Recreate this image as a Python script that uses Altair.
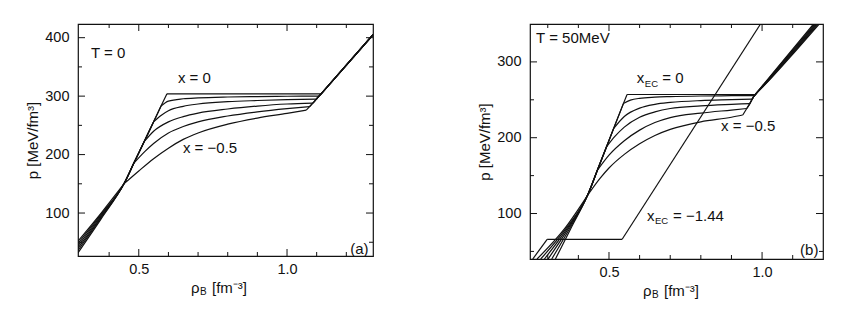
import altair as alt
import pandas as pd

FONT = "Liberation Sans"
INK = "#111111"

# ======================= panel (a): T = 0 =======================
A_XDOM = [0.295, 1.29]
A_YDOM = [26.5, 423.4]
A_W, A_H = 295, 232

# curves x = 0, -0.1, -0.2, -0.3, -0.4, -0.5 (index k = 0..5)
# low-density hadronic bunch
A_HAD_X = [0.295, 0.373, 0.45]
A_HAD_P_START = [32, 36, 40, 44, 48, 52]
A_HAD_P_MID = [90, 92, 94, 96, 98, 100]
A_HAD_P_JOIN = 150
# common hadronic line up to the onset of the mixed phase
A_ONSET_X = [0.45, 0.483, 0.518, 0.55, 0.575, 0.595]
A_ONSET_P = [150, 185, 222, 256, 283, 304]
# mixed phase
A_MIX0_X = [0.595, 0.85, 1.115]
A_MIX0_P = [304, 304, 304]
A_MIX1_X = [0.575, 0.6, 0.65, 0.7, 0.8, 0.9, 1.0, 1.108]
A_MIX1_P = [283, 291.5, 295.5, 297, 298.5, 299.3, 299.8, 300]
A_MIX2_X = [0.55, 0.575, 0.6, 0.65, 0.7, 0.8, 0.9, 1.0, 1.099]
A_MIX2_P = [256, 267, 275, 282.5, 286.5, 290.5, 292.5, 294, 295]
A_MIX3_X = [0.518, 0.55, 0.6, 0.65, 0.7, 0.8, 0.9, 1.0, 1.087]
A_MIX3_P = [222, 240, 256, 265, 271, 278, 283, 286.5, 288]
A_MIX4_X = [0.483, 0.52, 0.55, 0.6, 0.65, 0.7, 0.8, 0.9, 1.0, 1.076]
A_MIX4_P = [185, 205, 219, 237, 248, 256, 266, 273, 278.5, 282]
A_MIX5_X = [0.45, 0.5, 0.55, 0.6, 0.65, 0.7, 0.8, 0.9, 1.0, 1.065]
A_MIX5_P = [150, 172, 193, 211, 226, 237, 252, 262.5, 270.5, 276]
# pure quark phase
A_QGP_X = [1.065, 1.076, 1.087, 1.099, 1.108, 1.115, 1.29]
A_QGP_P = [276, 282, 288, 295, 300, 304, 405]

A_XT_MAJOR = [0.5, 1.0]
A_XT_MINOR = [0.4, 0.6, 0.7, 0.8, 0.9, 1.1, 1.2]
A_YT_MAJOR = [100, 200, 300, 400]
A_YT_MINOR = [50, 150, 250, 350]

A_LABEL_T = ["T = 0", "x = 0", "x = \u22120.5", "(a)"]
A_LABEL_X = [0.339, 0.632, 0.649, 1.213]
A_LABEL_P = [373.8, 331, 211.2, 38.5]

# ======================= panel (b): T = 50 MeV =======================
B_XDOM = [0.242, 1.199]
B_YDOM = [40, 350]
B_W, B_H = 293, 235

B_HAD_P = [40, 80, 124]
B_HAD_X_START = [0.325, 0.313, 0.301, 0.289, 0.277, 0.265]
B_HAD_X_MID = [0.375, 0.371, 0.367, 0.363, 0.359, 0.355]
B_HAD_X_JOIN = 0.43
B_ONSET_X = [0.43, 0.462, 0.492, 0.515, 0.547, 0.559]
B_ONSET_P = [124, 157, 188, 212, 245, 257]
B_MIX0_X = [0.559, 0.75, 0.978]
B_MIX0_P = [257, 257, 257]
B_MIX1_X = [0.547, 0.57, 0.6, 0.65, 0.7, 0.8, 0.9, 0.975]
B_MIX1_P = [245, 249.5, 252, 253.5, 254.2, 255, 255.4, 255.5]
B_MIX2_X = [0.515, 0.55, 0.6, 0.65, 0.7, 0.8, 0.9, 0.968]
B_MIX2_P = [212, 228, 239, 244, 246.5, 249, 250.2, 251]
B_MIX3_X = [0.492, 0.52, 0.55, 0.6, 0.65, 0.7, 0.8, 0.9, 0.96]
B_MIX3_P = [188, 202, 214, 227, 234, 238.5, 242, 244, 245]
B_MIX4_X = [0.462, 0.5, 0.55, 0.6, 0.65, 0.7, 0.8, 0.9, 0.95]
B_MIX4_P = [157, 177, 196, 210, 220, 226.5, 232.5, 236.5, 238.5]
B_MIX5_X = [0.43, 0.47, 0.5, 0.55, 0.6, 0.65, 0.7, 0.8, 0.9, 0.937]
B_MIX5_P = [124, 146, 160, 178, 192, 203, 211, 221, 227, 230]
B_QGP_X = [0.937, 0.95, 0.96, 0.968, 0.975, 0.978]
B_QGP_P = [230, 238.5, 245, 251, 255.5, 257]
B_TOP_P = [268, 316, 350]
B_TOP0_X = [1.0, 1.098, 1.168]
B_TOP1_X = [1.001, 1.101, 1.172]
B_TOP2_X = [1.002, 1.104, 1.176]
B_TOP3_X = [1.003, 1.107, 1.179]
B_TOP4_X = [1.004, 1.110, 1.183]
B_TOP5_X = [1.005, 1.113, 1.187]
# x_EC = -1.44
B_EC_X = [0.251, 0.298, 0.543, 0.995]
B_EC_P = [40, 66, 66, 350]

B_XT_MAJOR = [0.5, 1.0]
B_XT_MINOR = [0.3, 0.4, 0.6, 0.7, 0.8, 0.9, 1.1]
B_YT_MAJOR = [100, 200, 300]
B_YT_MINOR = [50, 150, 250]

B_LABEL_T = ["T = 50MeV", "x", "= 0", "x = \u22120.5", "x", "= \u22121.44", "(b)"]
B_LABEL_X = [0.262, 0.591, 0.674, 0.866, 0.624, 0.709, 1.124]
B_LABEL_P = [331.5, 278.8, 278.8, 215.4, 96.7, 96.7, 51.8]
B_SUB_T = ["EC", "EC"]
B_SUB_X = [0.617, 0.650]
B_SUB_P = [271.5, 89.5]


def seg(rows, key, xs, ps):
    for i, (x, p) in enumerate(zip(xs, ps)):
        rows.append({"key": key, "i": i, "x": x, "p": p})


# ---------- build line tables ----------
A_MIX = [(A_MIX0_X, A_MIX0_P), (A_MIX1_X, A_MIX1_P), (A_MIX2_X, A_MIX2_P),
         (A_MIX3_X, A_MIX3_P), (A_MIX4_X, A_MIX4_P), (A_MIX5_X, A_MIX5_P)]
rows_a = []
for k in range(6):
    j = 5 - k
    seg(rows_a, f"had{k}", A_HAD_X + A_ONSET_X[1:j + 1],
        [A_HAD_P_START[k], A_HAD_P_MID[k], A_HAD_P_JOIN] + A_ONSET_P[1:j + 1])
    seg(rows_a, f"mix{k}", A_MIX[k][0], A_MIX[k][1])
    seg(rows_a, f"qgp{k}", A_QGP_X[j:], A_QGP_P[j:])
df_a = pd.DataFrame(rows_a)

B_MIX = [(B_MIX0_X, B_MIX0_P), (B_MIX1_X, B_MIX1_P), (B_MIX2_X, B_MIX2_P),
         (B_MIX3_X, B_MIX3_P), (B_MIX4_X, B_MIX4_P), (B_MIX5_X, B_MIX5_P)]
B_TOP = [B_TOP0_X, B_TOP1_X, B_TOP2_X, B_TOP3_X, B_TOP4_X, B_TOP5_X]
rows_b = []
for k in range(6):
    j = 5 - k
    seg(rows_b, f"had{k}",
        [B_HAD_X_START[k], B_HAD_X_MID[k], B_HAD_X_JOIN] + B_ONSET_X[1:j + 1],
        B_HAD_P + B_ONSET_P[1:j + 1])
    seg(rows_b, f"mix{k}", B_MIX[k][0], B_MIX[k][1])
    seg(rows_b, f"qgp{k}", B_QGP_X[j:] + B_TOP[k], B_QGP_P[j:] + B_TOP_P)
for s in range(3):
    seg(rows_b, f"ec{s}", B_EC_X[s:s + 2], B_EC_P[s:s + 2])
df_b = pd.DataFrame(rows_b)


def panel(df, xdom, ydom, w, h, xt_major, xt_minor, yt_major, yt_minor,
          lab_t, lab_x, lab_p, sub_t=None, sub_x=None, sub_p=None):
    X = alt.X("x:Q", scale=alt.Scale(domain=xdom, nice=False, zero=False),
              axis=alt.Axis(values=xt_major, format=".1f", title=None, ticks=False,
                            tickSize=0, domain=False, grid=False, labelPadding=6,
                            labelFontSize=14.5, labelFont=FONT, labelColor=INK))
    Y = alt.Y("p:Q", scale=alt.Scale(domain=ydom, nice=False, zero=False),
              axis=alt.Axis(values=yt_major, format="d", title="p  [MeV/fm\u00b3]",
                            ticks=False, tickSize=0, domain=False, grid=False,
                            labelPadding=9, labelFontSize=14.5, labelFont=FONT,
                            labelColor=INK, minExtent=33, maxExtent=33,
                            titlePadding=5, titleFont=FONT, titleFontSize=15,
                            titleFontWeight="normal", titleColor=INK))
    layers = []
    layers.append(alt.Chart(df).mark_line(interpolate="monotone", color=INK,
                                          strokeWidth=1.2, clip=True)
                  .encode(x=X, y=Y, detail="key:N", order="i:Q"))
    # inward ticks on all four sides
    for vals, L in ((xt_major, 7), (xt_minor, 4)):
        d = pd.DataFrame({"x": vals})
        layers.append(alt.Chart(d).mark_rule(color=INK, strokeWidth=1)
                      .encode(x=X, y=alt.value(h), y2=alt.value(h - L)))
        layers.append(alt.Chart(d).mark_rule(color=INK, strokeWidth=1)
                      .encode(x=X, y=alt.value(0), y2=alt.value(L)))
    for vals, L in ((yt_major, 7), (yt_minor, 4)):
        d = pd.DataFrame({"p": vals})
        layers.append(alt.Chart(d).mark_rule(color=INK, strokeWidth=1)
                      .encode(y=Y, x=alt.value(0), x2=alt.value(L)))
        layers.append(alt.Chart(d).mark_rule(color=INK, strokeWidth=1)
                      .encode(y=Y, x=alt.value(w), x2=alt.value(w - L)))
    # in-plot labels
    dl = pd.DataFrame({"t": lab_t, "x": lab_x, "p": lab_p})
    layers.append(alt.Chart(dl).mark_text(align="left", baseline="middle", font=FONT,
                                          fontSize=15, color=INK)
                  .encode(x=X, y=Y, text="t:N"))
    if sub_t:
        ds = pd.DataFrame({"t": sub_t, "x": sub_x, "p": sub_p})
        layers.append(alt.Chart(ds).mark_text(align="left", baseline="middle", font=FONT,
                                              fontSize=9.5, color=INK)
                      .encode(x=X, y=Y, text="t:N"))
    # x-axis title: rho_B [fm^-3]
    one = pd.DataFrame({"t": [0]})
    layers.append(alt.Chart(one).mark_text(align="left", baseline="middle", font=FONT,
                                           fontSize=15, color=INK, text="\u03c1")
                  .encode(x=alt.value(113), y=alt.value(h + 32)))
    layers.append(alt.Chart(one).mark_text(align="left", baseline="middle", font=FONT,
                                           fontSize=10, color=INK, text="B")
                  .encode(x=alt.value(122), y=alt.value(h + 36)))
    layers.append(alt.Chart(one).mark_text(align="left", baseline="middle", font=FONT,
                                           fontSize=15, color=INK, text="[fm\u207b\u00b3]")
                  .encode(x=alt.value(134), y=alt.value(h + 32)))
    return alt.layer(*layers).properties(width=w, height=h)


pa = panel(df_a, A_XDOM, A_YDOM, A_W, A_H, A_XT_MAJOR, A_XT_MINOR, A_YT_MAJOR,
           A_YT_MINOR, A_LABEL_T, A_LABEL_X, A_LABEL_P)
pb = panel(df_b, B_XDOM, B_YDOM, B_W, B_H, B_XT_MAJOR, B_XT_MINOR, B_YT_MAJOR,
           B_YT_MINOR, B_LABEL_T, B_LABEL_X, B_LABEL_P, B_SUB_T, B_SUB_X, B_SUB_P)

chart = (alt.hconcat(pa, pb, spacing=101)
         .configure_view(stroke=INK, strokeWidth=1.2)
         .properties(padding={"left": 16, "top": 14, "right": 5, "bottom": 5},
                     background="white"))

chart.save("out.html", embed_options={"renderer": "svg", "actions": False})
